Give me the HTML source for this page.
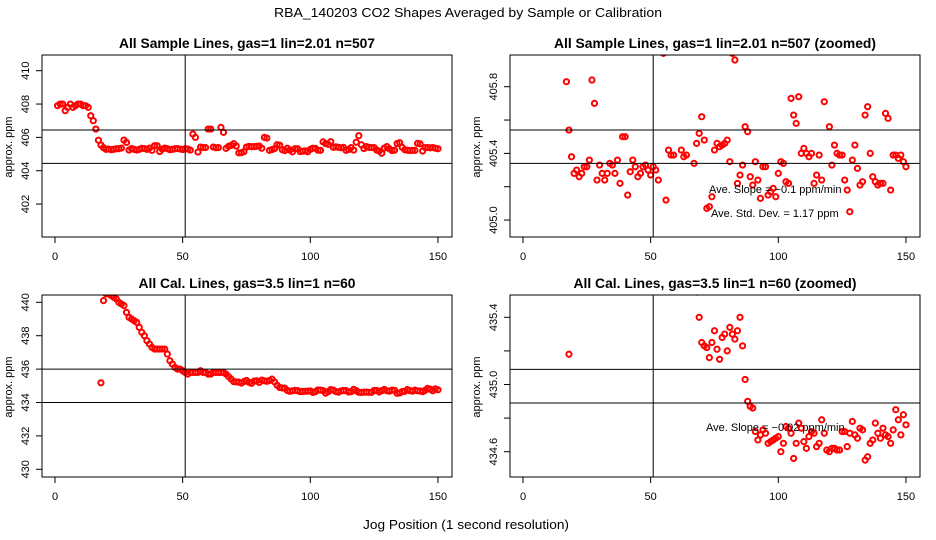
<!DOCTYPE html>
<html><head><meta charset="utf-8"><style>
html,body{margin:0;padding:0;background:#fff}
svg{display:block;font-family:"Liberation Sans",sans-serif}
</style></head><body>
<svg id="chart" width="936" height="540" viewBox="0 0 936 540">
<text x="468" y="17" text-anchor="middle" font-size="13" textLength="388" lengthAdjust="spacingAndGlyphs">RBA_140203  CO2 Shapes Averaged by Sample or Calibration</text>
<text x="466" y="529" text-anchor="middle" font-size="13" textLength="206" lengthAdjust="spacingAndGlyphs">Jog Position (1 second resolution)</text>
</svg>
<script>
// Sample lines (x = 1..150)
const sampleX = [];
for (let i = 1; i <= 150; i++) sampleX.push(i);
const sampleY = [407.9,408.0,408.0,407.6,407.8,408.0,407.8,407.9,408.0,408.0,407.9,407.9,407.8,407.3,407.0,406.5,
405.83,405.54,405.38,405.28,405.30,405.26,405.28,405.32,405.32,405.36,405.84,405.70,405.24,405.33,
405.28,405.24,405.28,405.34,405.33,405.28,405.36,405.22,405.50,405.50,405.15,405.29,405.36,405.32,
405.26,405.28,405.32,405.33,405.30,405.27,405.32,405.30,405.24,406.2,406.0,405.12,405.42,405.39,
405.39,406.5,406.5,405.42,405.38,405.39,406.6,406.3,405.34,405.46,405.52,405.62,405.48,405.07,
405.08,405.14,405.42,405.46,405.44,405.45,405.46,405.48,405.35,406.0,405.96,405.22,405.27,405.33,
405.56,405.53,405.26,405.21,405.35,405.24,405.13,405.32,405.32,405.15,405.17,405.19,405.14,405.28,
405.35,405.34,405.23,405.22,405.73,405.63,405.58,405.74,405.40,405.43,405.40,405.38,405.40,405.22,
405.27,405.39,405.24,405.71,406.1,405.56,405.33,405.45,405.40,405.39,405.39,405.24,405.18,405.05,
405.36,405.45,405.31,405.21,405.23,405.63,405.68,405.40,405.26,405.23,405.21,405.22,405.22,405.64,
405.61,405.18,405.39,405.39,405.37,405.39,405.35,405.32];
// Cal lines (x = 18..150)
const calX = [];
for (let i = 18; i <= 150; i++) calX.push(i);
const calY = [435.18,440.1,440.5,440.5,440.4,440.3,440.2,440.0,439.9,439.8,439.4,439.1,439.0,438.9,438.8,
438.5,438.2,438.0,437.7,437.5,437.3,437.2,437.2,437.2,437.2,437.2,436.9,436.5,436.3,436.1,436.0,436.0,
435.9,435.8,435.7,435.8,435.8,435.8,435.8,435.9,435.8,435.8,435.7,435.7,435.8,435.8,435.8,435.8,435.8,
435.7,435.55,435.40,435.25,435.23,435.22,435.16,435.25,435.32,435.21,435.15,435.28,435.30,435.20,435.34,
435.30,435.27,435.32,435.40,435.23,435.03,434.90,434.87,434.86,434.72,434.67,434.70,434.73,434.71,434.65,
434.66,434.67,434.68,434.69,434.60,434.65,434.75,434.74,434.71,434.56,434.65,434.77,434.74,434.66,434.62,
434.69,434.72,434.71,434.63,434.65,434.79,434.71,434.61,434.60,434.62,434.62,434.61,434.61,434.72,434.72,
434.63,434.71,434.78,434.70,434.68,434.74,434.73,434.55,434.57,434.65,434.67,434.77,434.71,434.68,434.74,
434.70,434.69,434.65,434.73,434.85,434.79,434.70,434.82,434.76];
const xTicks = [0,50,100,150];
const p1Ticks = [402,404,406,408,410];
const p2Ticks = [405.0,405.2,405.4,405.6,405.8];
const p2Labels = ["405.0","","405.4","","405.8"];
const p3Ticks = [430,432,434,436,438,440];
const p4Ticks = [434.6,434.8,435.0,435.2,435.4];
const p4Labels = ["434.6","","435.0","","435.4"];
const p1H = [406.44,404.44], p2H = [405.54,405.34], p3H = [436,434], p4H = [435.09,434.89];

const NS = "http://www.w3.org/2000/svg";
const svg = document.getElementById('chart');
function mk(tag, attrs, parent){const e=document.createElementNS(NS,tag);for(const k in attrs)e.setAttribute(k,attrs[k]);(parent||svg).appendChild(e);return e;}

function panel(id, ox, oy, title, tlen, xs, ys, ticks, labels, hl, v0, y0, scale){
  const L=42+ox,R=452+ox,T=55+oy,B=237+oy;
  const g=mk('g',{});
  
  
  const xm=x=>55+ox+x*2.553;
  const ym=v=>y0+oy+(v0-v)*scale;
  const t=mk('text',{x:247+ox,y:48+oy,'text-anchor':'middle','font-size':13.5,'font-weight':'bold',textLength:tlen,lengthAdjust:'spacingAndGlyphs'},g);
  t.textContent=title;
  
  
  const cid='clip-'+id;
  const cp=mk('clipPath',{id:cid},g); mk('rect',{x:L,y:T,width:R-L,height:B-T},cp);
  const pts=mk('g',{'clip-path':'url(#'+cid+')'},g);
  
  
  for(let i=0;i<xs.length;i++){
    const c=mk('circle',{cx:xm(xs[i]),cy:ym(ys[i]),r:2.6,fill:'none',stroke:'#f00','stroke-width':2},pts);
    
    
  }
  const vl=mk('line',{x1:xm(51),x2:xm(51),y1:T,y2:B,stroke:'#000','stroke-width':1},g);
  
  
  hl.forEach(h=>{
    const l=mk('line',{x1:L,x2:R,y1:ym(h),y2:ym(h),stroke:'#000','stroke-width':1},g);
    
    
  });
  const box=mk('rect',{x:L,y:T,width:R-L,height:B-T,fill:'none',stroke:'#000','stroke-width':1},g);
  
  
  xTicks.forEach(x=>{
    mk('line',{x1:xm(x),x2:xm(x),y1:B,y2:B+6,stroke:'#000'},g);
    const tx=mk('text',{x:xm(x),y:B+23,'text-anchor':'middle','font-size':11},g);
    tx.textContent=x;
    
    
  });
  ticks.forEach((v,i)=>{
    const y=ym(v);
    mk('line',{x1:L-6,x2:L,y1:y,y2:y,stroke:'#000'},g);
    if(labels[i]){
      const ty=mk('text',{x:0,y:0,'text-anchor':'middle','font-size':11,transform:`translate(${L-13},${y}) rotate(-90)`},g);
      ty.textContent=labels[i];
      
      
    }
  });
  const yl=mk('text',{x:0,y:0,'text-anchor':'middle','font-size':11,transform:`translate(${12+ox},${147+oy}) rotate(-90)`},g);
  yl.textContent='approx. ppm';
  
  
  return g;
}
panel('panel-sample',0,0,'All Sample Lines, gas=1 lin=2.01 n=507',256,sampleX,sampleY,p1Ticks,p1Ticks.map(String),p1H,410,70.7,16.67);
const g2=panel('panel-sample-zoomed',468,0,'All Sample Lines, gas=1 lin=2.01 n=507 (zoomed)',322,sampleX,sampleY,p2Ticks,p2Labels,p2H,405.8,86.7,166.7);
panel('panel-cal',0,240,'All Cal. Lines, gas=3.5 lin=1 n=60',217,calX,calY,p3Ticks,p3Ticks.map(String),p3H,440,62.3,16.7);
const g4=panel('panel-cal-zoomed',468,240,'All Cal. Lines, gas=3.5 lin=1 n=60 (zoomed)',283,calX,calY,p4Ticks,p4Labels,p4H,435.4,77.3,168);
function note(g,x,y,s,name){const t=mk('text',{x:x,y:y,'font-size':11},g);t.textContent=s;
  
  }
note(g2,709,193,'Ave. Slope =  \u22120.1  ppm/min','slope-annotation');
note(g2,711,217,'Ave. Std. Dev. =  1.17  ppm','std-dev-annotation');
note(g4,706,431,'Ave. Slope =  \u22120.02  ppm/min','slope-annotation');
</script>
</body></html>
